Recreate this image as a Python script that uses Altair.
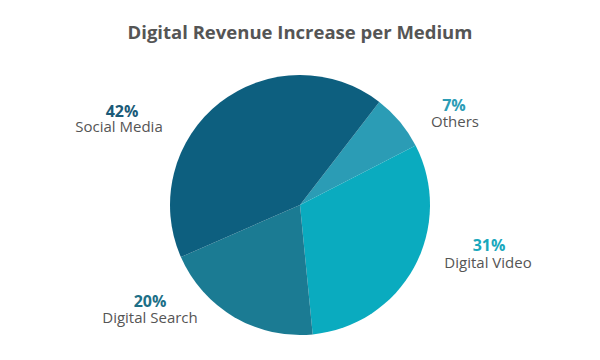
import altair as alt
import pandas as pd

categories = ["Others", "Digital Video", "Digital Search", "Social Media"]
values = [7, 31, 20, 42]
labels = ["7%", "31%", "20%", "42%"]
slice_colors = ["#2b9cb5", "#0aabbf", "#1b7b93", "#0d5f7f"]
label_colors = ["#2b9cb5", "#1aa8bd", "#1d6f87", "#1b5a78"]

df = pd.DataFrame({
    "category": categories,
    "value": values,
    "label": labels,
    "order": list(range(len(categories))),
})

start = 0.656  # radians, clockwise from 12 o'clock
theta_scale = alt.Scale(range=[start, start + 6.283185307])
color_scale = alt.Scale(domain=categories, range=slice_colors)

base = alt.Chart(df).encode(
    theta=alt.Theta("value:Q", stack=True, scale=theta_scale),
    order=alt.Order("order:Q"),
)

pie = base.mark_arc(outerRadius=130, stroke=None).encode(
    color=alt.Color("category:N", scale=color_scale, legend=None)
)

# label offsets (layout) from the pie centre: (percent dx, dy), (name dx, dy)
offsets = {
    "Others": ((154, -94), (155, -78)),
    "Digital Video": ((189, 46), (188, 63)),
    "Digital Search": ((-150, 102), (-150, 118)),
    "Social Media": ((-178, -88), (-181, -73)),
}

layers = [pie]
for cat, col in zip(categories, label_colors):
    (pdx, pdy), (ndx, ndy) = offsets[cat]
    sub = base.transform_filter(alt.datum.category == cat)
    layers.append(
        sub.mark_text(
            font="Open Sans", fontSize=16, fontWeight="bold", color=col,
            align="center", baseline="alphabetic", dx=pdx, dy=pdy,
        ).encode(text="label:N", radius=alt.value(0))
    )
    layers.append(
        sub.mark_text(
            font="Open Sans", fontSize=15, color="#555555",
            align="center", baseline="alphabetic", dx=ndx, dy=ndy,
        ).encode(text="category:N", radius=alt.value(0))
    )

chart = alt.layer(*layers).properties(
    width=584,
    height=294,
    padding={"left": 0, "right": 0, "top": 50, "bottom": 0},
    autosize="none",
    title=alt.TitleParams(
        "Digital Revenue Increase per Medium",
        font="Open Sans", fontSize=18.5, fontWeight="bold", color="#555555",
        anchor="middle", offset=16,
    ),
).configure_view(stroke=None)

chart.save("out.html", embed_options={"renderer": "svg", "actions": False})
